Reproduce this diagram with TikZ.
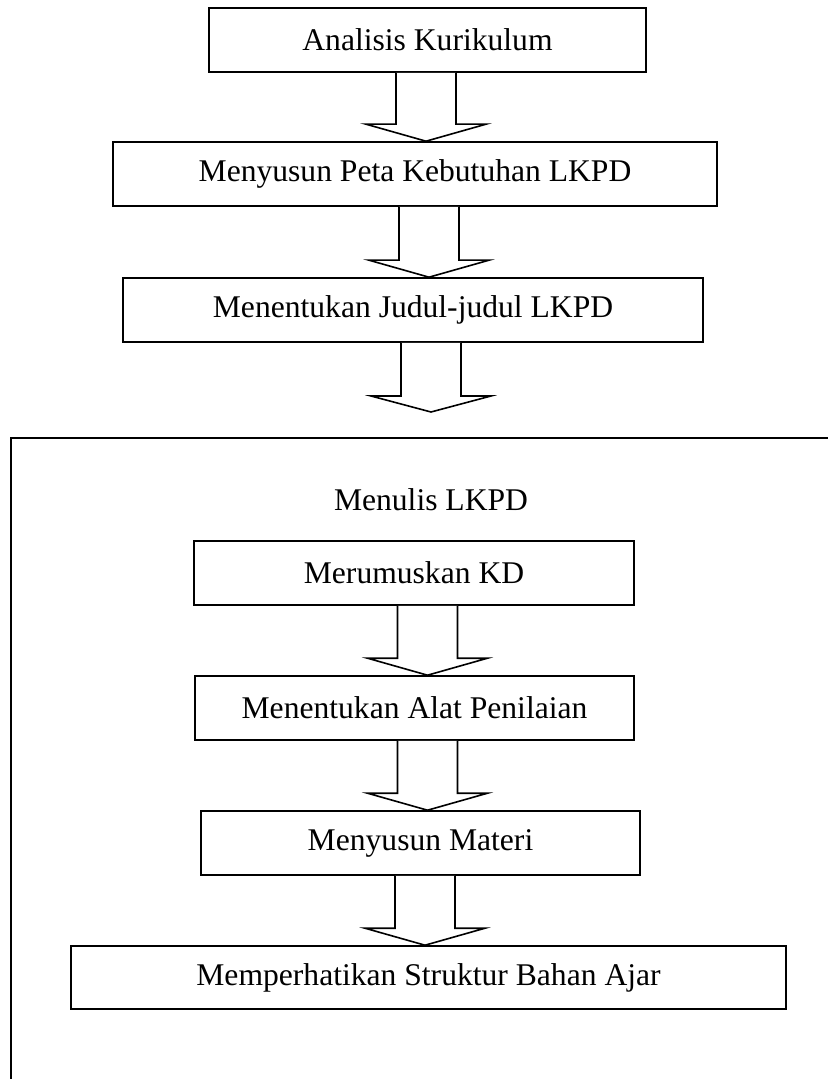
\documentclass[tikz,border=0pt]{standalone}
\usepackage{fontspec}
\setmainfont{Liberation Serif}
\usetikzlibrary{calc}
\tikzset{
    stepbox/.style = {rectangle, draw=black, line width=0.8pt, minimum height=32pt, inner sep=0pt, fill=white},
    blockarr/.style = {draw=black, line width=0.8pt, fill=white, line join=miter},
    frameline/.style = {draw=black, line width=0.9pt},
    titletext/.style = {inner sep=0pt},
    every picture/.style={font issue=\fontsize{15.8}{19}},
    font issue/.style={execute at begin picture={#1\selectfont}}
}
% hollow block arrow: from node, to node, x of the shaft
\newcommand{\blockarrow}[3]{%
  \draw[blockarr] let \p1=(#1.south), \p2=(#2.north) in
    ({#3-15pt},\y1) -- ({#3-15pt},{\y2+8.5pt}) -- ({#3-30pt},{\y2+8.5pt}) -- (#3,\y2)
    -- ({#3+30pt},{\y2+8.5pt}) -- ({#3+15pt},{\y2+8.5pt}) -- ({#3+15pt},\y1);
}
\begin{document}
\begin{tikzpicture}[x=0.5pt, y=-0.5pt]
  \useasboundingbox (0,0) rectangle (828,1079);

  % outer steps
  \node[stepbox, minimum width=218.5pt] (kurikulum) at (427.5,40) {Analisis Kurikulum};
  \node[stepbox, minimum width=302pt] (peta) at (415,174) {Menyusun Peta Kebutuhan LKPD};
  \node[stepbox, minimum width=290pt] (judul) at (413,310) {Menentukan Judul-judul LKPD};

  % frame of the writing stage
  \coordinate (framebl) at (11,1079);
  \coordinate (frametr) at (828,438);
  \draw[frameline] (framebl) |- (frametr);
  \node[titletext] (menulis) at (431,500) {Menulis LKPD};

  % inner steps
  \node[stepbox, minimum width=220pt] (kd) at (414,573) {Merumuskan KD};
  \node[stepbox, minimum width=219.5pt] (penilaian) at (414.5,708) {Menentukan Alat Penilaian};
  \node[stepbox, minimum width=219.5pt] (materi) at (420.5,843) {Menyusun Materi};
  \node[stepbox, minimum width=357.5pt, minimum height=31.5pt] (struktur) at (428.5,977.5) {Memperhatikan Struktur Bahan Ajar};

  \blockarrow{kurikulum}{peta}{213pt}
  \blockarrow{peta}{judul}{214.5pt}
  \coordinate (frametop) at (431,438);
  \draw[blockarr] let \p1=(judul.south), \p2=(frametop) in
    ({215.5pt-15pt},\y1) -- ({215.5pt-15pt},{\y2+21pt}) -- ({215.5pt-30pt},{\y2+21pt}) -- (215.5pt,{\y2+13pt})
    -- ({215.5pt+30pt},{\y2+21pt}) -- ({215.5pt+15pt},{\y2+21pt}) -- ({215.5pt+15pt},\y1);
  \blockarrow{kd}{penilaian}{213.75pt}
  \blockarrow{penilaian}{materi}{213.75pt}
  \blockarrow{materi}{struktur}{212.5pt}
\end{tikzpicture}
\end{document}
